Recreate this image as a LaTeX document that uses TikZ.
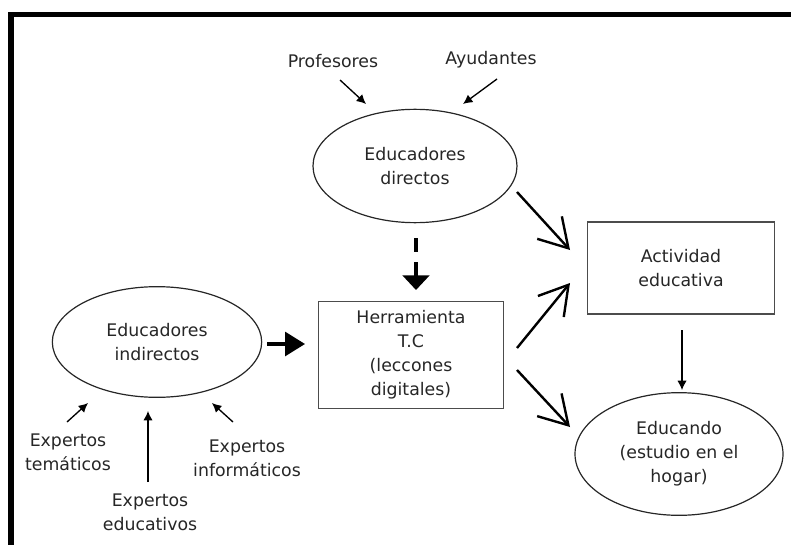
\documentclass[tikz,border=0pt]{standalone}
\usepackage{fontspec}
\setmainfont{DejaVu Sans}
\usetikzlibrary{calc,arrows.meta,shapes.geometric}
\tikzset{
  elipse/.style={draw=black!85, line width=0.9pt, ellipse, inner sep=0pt, align=center},
  caja/.style={draw=black!70, line width=1.1pt, rectangle, inner sep=0pt, align=center},
  etiqueta/.style={align=center, inner sep=0pt},
  flechita/.style={line width=1pt, -{Latex[length=7pt,width=7pt]}},
  flechagorda/.style={line width=2.3pt, -{Triangle[length=15pt,width=18pt]}},
  flechaguion/.style={line width=2.3pt, dash pattern=on 10.5pt off 7.5pt, -{Triangle[length=11pt,width=20pt]}},
  punta/.style={line width=1.8pt, -{Straight Barb[length=21pt,width=25pt]}},
  marco/.style={line width=4pt, line cap=butt}
}

\begin{document}
\begin{tikzpicture}[x=0.75pt, y=-0.75pt,
    every node/.style={font=\fontsize{13pt}{18pt}\selectfont, text=black!85}]
			%%%%% START %%%%%
			\useasboundingbox (0,0) rectangle (791,545);
			
			\draw[marco] (791,14.5) -- (11,14.5) -- (11,545);
			
			\node[etiqueta] (prof) at (333,61) {Profesores};
			\node[etiqueta] (ayud) at (491,60) {Ayudantes};
			\node[elipse, minimum width=153pt, minimum height=85pt] (dirs) at (415,166) {Educadores\\directos};
			
			\node[caja, minimum width=139pt, minimum height=80pt] (herr) at (411,355) {Herramienta\\T.C\\(leccones\\digitales)};
			\node[elipse, minimum width=157pt, minimum height=83pt] (indir) at (157,342) {Educadores\\indirectos};
			
			\node[caja, minimum width=140pt, minimum height=69pt] (act) at (681,268) {Actividad\\educativa};
			\node[elipse, minimum width=156pt, minimum height=92pt] (educ) at (679,454) {Educando\\(estudio en el\\hogar)};
			
			\node[etiqueta] (tem) at (68,452) {Expertos\\temáticos};
			\node[etiqueta] (edu) at (150,512) {Expertos\\educativos};
			\node[etiqueta] (inf) at (247,458) {Expertos\\informáticos};
			
			\draw[flechita] ($(prof)+(7,19)$) -- ($(dirs)+(-49,-62)$);
			\draw[flechita] ($(ayud)+(6,19)$) -- ($(dirs)+(48,-62)$);
			\draw[flechaguion] ($(dirs)+(1,72)$) -- ($(herr)+(5,-65)$);
			\draw[flechagorda] ($(indir)+(110,2)$) -- ($(herr)+(-106,-11)$);
			
			\draw[punta] ($(dirs)+(102,26)$) -- ($(act)+(-111,-18)$);
			\draw[punta] ($(herr)+(106,-7)$) -- ($(act)+(-111,15)$);
			\draw[punta] ($(herr)+(106,15)$) -- ($(educ)+(-109,-27)$);
			\draw[flechita, line width=0.8pt] ($(act)+(1,62)$) -- ($(educ)+(3,-64)$);
			
			\draw[flechita] ($(tem)+(-1,-30)$) -- ($(indir)+(-69,61)$);
			\draw[flechita] ($(edu)+(-2,-30)$) -- ($(indir)+(-9,69)$);
			\draw[flechita] ($(inf)+(-14,-36)$) -- ($(indir)+(55,61)$);
			%%%%% END %%%%%
		\end{tikzpicture}
\end{document}
